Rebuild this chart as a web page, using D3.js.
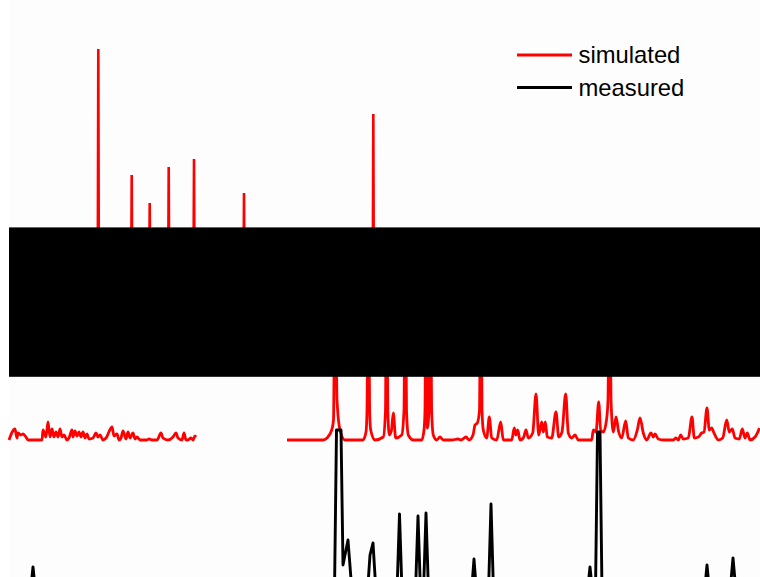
<!DOCTYPE html>
<html>
<head>
<meta charset="utf-8">
<script src="https://cdn.jsdelivr.net/npm/d3@7"></script>
<style>
  html, body { margin: 0; padding: 0; background: #ffffff; }
  svg { display: block; }
</style>
</head>
<body>
<div id="chart"></div>
<script>
// ---- data (2θ in degrees, intensity in arbitrary units) ----
const legendLabels = ["simulated", "measured"];
const seriesColors = ["#ff0000", "#000000"];

// simulated reflections shown as sharp sticks in the upper panel
const stickTheta = [19.03, 22.37, 24.17, 26.07, 28.6, 33.6, 46.53];
const stickInt   = [291, 165, 137, 173, 181, 147, 226];
const stickBase  = 40;

// simulated pattern (lower trace); NaN marks the gap in the trace
const simTheta = [
  10.1, 10.7, 10.9, 11.0, 11.3, 11.5, 11.8, 12.0, 13.4, 13.5, 13.8, 14.0, 14.2, 14.4, 14.6, 14.8, 15.0, 15.2, 15.4, 15.6,
  15.9, 16.1, 16.4, 16.5, 16.7, 16.9, 17.1, 17.3, 17.5, 17.7, 17.9, 18.1, 18.5, 18.8, 19.0, 19.2, 19.5, 19.8, 20.4, 20.6,
  20.9, 21.1, 21.3, 21.5, 21.8, 22.0, 22.2, 22.5, 22.7, 22.9, 23.2, 23.6, 23.9, 24.1, 24.4, 24.9, 25.3, 25.5, 26.0, 26.5,
  26.8, 27.0, 27.4, 27.6, 27.8, 28.0, 28.3, 28.5, 28.7, 28.8,
  NaN,
  37.9, 41.5, 41.9, 42.37, 42.55, 42.72, 42.9, 43.2, 43.7, 45.5, 45.8, 45.9, 46.03, 46.16, 46.27, 46.7, 47.53, 47.75, 47.85,
  47.98, 48.13, 48.35, 48.53, 48.77, 49.37, 49.6, 49.72, 49.85, 50.03, 50.53, 51.37, 51.6, 51.7, 51.8, 51.93, 52.1, 52.23,
  52.36, 52.53, 52.87, 53.2, 53.53, 54.4, 55.0, 55.3, 55.8, 56.1, 56.5, 56.7, 56.93, 57.15, 57.28, 57.4, 57.53, 57.87, 58.13,
  58.37, 58.87, 59.27, 59.53, 60.37, 60.63, 60.8, 60.97, 61.2, 61.53, 61.8, 62.03, 62.47, 62.8, 63.07, 63.37, 63.53, 63.73,
  63.93, 64.37, 64.8, 65.07, 65.4, 65.77, 66.03, 66.37, 66.7, 67.03, 68.37, 68.53, 68.8, 69.07, 69.27, 69.53, 69.85, 70.0,
  70.15, 70.3, 70.53, 70.8, 71.07, 71.37, 71.77, 72.03, 72.53, 72.93, 73.2, 73.53, 73.87, 74.3, 74.53, 74.7, 75.03, 75.53,
  76.53, 76.8, 77.03, 77.27, 77.53, 78.03, 78.4, 78.63, 79.03, 79.37, 79.6, 79.9, 80.13, 80.37, 80.6, 81.03, 81.47, 81.87,
  82.13, 82.43, 82.7, 83.13, 83.43, 83.7, 83.93, 84.2, 84.7, 85.15
];
const simInt = [
  0, 11, 2, 7, 5, 6, 3, 0, 0, 10, 3, 18, 3, 11, 3, 8, 3, 11, 3, 5,
  0, 2, 10, 3, 9, 4, 8, 3, 8, 2, 6, 1, 2, 7, 3, 5, 0, 2, 13, 4,
  6, 0, 2, 9, 1, 8, 2, 7, 1, 3, 0, 0, 0, 1, 0, 0, 7, 2, 0, 3,
  7, 2, 0, 7, 0, 0, 2, 0, 4, 3,
  NaN,
  0, 0, 2, 10, 20, 200, 40, 10, 0, 0, 8, 30, 200, 30, 10, 0, 3, 30, 200,
  30, 5, 10, 27, 2, 5, 30, 200, 30, 5, 0, 0, 10, 30, 200, 12, 30, 200,
  30, 5, 0, 3, 0, 0, 1, 0, 3, 0, 5, 15, 17, 30, 200, 30, 10, 2, 23,
  2, 0, 18, 0, 0, 12, 5, 10, 0, 2, 10, 2, 7, 46, 5, 18, 8, 18,
  3, 2, 28, 3, 8, 46, 7, 2, 5, 0, 0, 10, 8, 38, 10, 8, 20, 40,
  200, 40, 8, 23, 8, 2, 19, 2, 0, 10, 22, 7, 0, 7, 3, 6, 1, 0,
  0, 2, 0, 5, 1, 2, 23, 2, 3, 7, 8, 32, 10, 12, 7, 0, 2, 20,
  8, 11, 2, 1, 11, 2, 7, 0, 3, 12
];

// measured pattern
const measTheta = [
  10.1, 12.25, 12.5, 12.75, 42.65, 42.85, 43.3, 43.5, 44.0, 44.4, 45.95, 46.2, 46.5, 46.8, 48.9, 49.15, 49.4,
  50.75, 51.0, 51.25, 51.55, 51.8, 52.05, 56.35, 56.6, 56.85, 58.05, 58.3, 58.55, 67.95, 68.2, 68.45,
  68.75, 68.95, 69.2, 69.4, 79.65, 79.9, 80.15, 82.2, 82.5, 82.8, 85.2
];
const measInt = [
  8, 8, 33, 8, 8, 170, 170, 35, 60, 8, 8, 45, 57, 8, 8, 86, 8,
  8, 84, 8, 8, 87, 8, 8, 41, 8, 8, 96, 8, 8, 33, 8,
  8, 168, 168, 8, 8, 35, 8, 8, 42, 8, 8
];

// ---- drawing ----
const W = 760, H = 577;
const svg = d3.select("#chart").append("svg").attr("width", W).attr("height", H);

svg.append("rect").attr("x", 9).attr("y", 0).attr("width", W - 9).attr("height", H).attr("fill", "#fdfdfd");

const x = d3.scaleLinear().domain([10, 85.2]).range([8, 760]);
const ySim = d3.scaleLinear().domain([0, 400]).range([440, 40]);
const yStick = d3.scaleLinear().domain([0, 300]).range([340, 40]);
const yMeas = d3.scaleLinear().domain([0, 400]).range([600, 200]);

const plot = svg.append("g");

// upper panel sticks
const stickPts = [];
stickTheta.forEach((t, i) => {
  stickPts.push([t - 0.06, stickBase], [t, stickInt[i]], [t + 0.06, stickBase], [NaN, NaN]);
});
plot.append("path")
  .datum(stickPts)
  .attr("fill", "none")
  .attr("stroke", seriesColors[0])
  .attr("stroke-width", 2.6)
  .attr("d", d3.line().defined(d => !isNaN(d[0])).x(d => x(d[0])).y(d => yStick(d[1])));

// simulated lower trace
const simData = simTheta.map((t, i) => [t, simInt[i]]);
plot.append("path")
  .datum(simData)
  .attr("fill", "none")
  .attr("stroke", seriesColors[0])
  .attr("stroke-width", 2.8)
  .attr("stroke-linejoin", "round")
  .attr("d", d3.line().defined(d => !isNaN(d[0])).curve(d3.curveMonotoneX).x(d => x(d[0])).y(d => ySim(d[1])));

// measured trace
const measData = measTheta.map((t, i) => [t, measInt[i]]);
plot.append("path")
  .datum(measData)
  .attr("fill", "none")
  .attr("stroke", seriesColors[1])
  .attr("stroke-width", 2.9)
  .attr("stroke-linejoin", "round")
  .attr("d", d3.line().x(d => x(d[0])).y(d => yMeas(d[1])));

// black masking band across the middle
svg.append("rect")
  .attr("x", 9).attr("y", 227.4)
  .attr("width", W - 9).attr("height", 149.4)
  .attr("fill", "#000000");

// legend
const legend = svg.append("g");
legendLabels.forEach((lab, i) => {
  const ly = 55 + i * 32.5;
  legend.append("line")
    .attr("x1", 517).attr("x2", 572)
    .attr("y1", ly).attr("y2", ly)
    .attr("stroke", seriesColors[i]).attr("stroke-width", 2.8);
  legend.append("text")
    .attr("x", 578.5).attr("y", ly + 8.3)
    .attr("font-family", "Liberation Sans, Arial, sans-serif")
    .attr("font-size", 23.8)
    .attr("fill", "#000")
    .text(lab);
});
</script>
</body>
</html>
